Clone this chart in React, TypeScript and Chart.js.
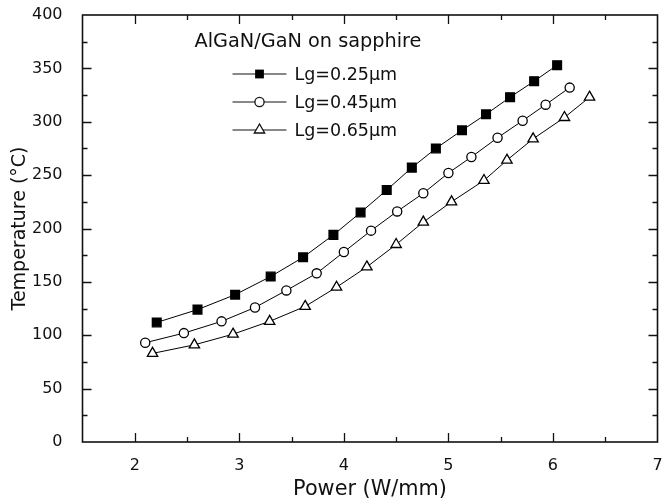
import React, { useEffect, useRef } from 'react';
import { Chart, registerables } from 'chart.js';

Chart.register(...registerables);

// ---- Data ----
const powerLg025 = [2.21, 2.6, 2.96, 3.3, 3.61, 3.9, 4.16, 4.41, 4.65, 4.88, 5.13, 5.36, 5.59, 5.82, 6.04];
const tempLg025 = [112, 124, 138, 155, 173, 194, 215, 236, 257, 275, 292, 307, 323, 338, 353];

const powerLg045 = [2.1, 2.47, 2.83, 3.15, 3.45, 3.74, 4.0, 4.26, 4.51, 4.76, 5.0, 5.22, 5.47, 5.71, 5.93, 6.16];
const tempLg045 = [93, 102, 113, 126, 142, 158, 178, 198, 216, 233, 252, 267, 285, 301, 316, 332];

const powerLg065 = [2.17, 2.57, 2.94, 3.29, 3.63, 3.93, 4.22, 4.5, 4.76, 5.03, 5.34, 5.56, 5.81, 6.11, 6.35];
const tempLg065 = [83, 91, 101, 113, 127, 145, 164, 185, 206, 225, 245, 264, 284, 304, 323];

const seriesLabels = ['Lg=0.25µm', 'Lg=0.45µm', 'Lg=0.65µm'];
const legendTitle = 'AlGaN/GaN on sapphire';
const xTitle = 'Power (W/mm)';
const yTitle = 'Temperature (°C)';

const xMin = 1.5;
const xMax = 7;
const xMinorStep = 0.5;
const yMin = 0;
const yMax = 400;
const yMajorStep = 50;
const yMinorStep = 25;

const FONT = '"DejaVu Sans", "Liberation Sans", Arial, sans-serif';
const INK = '#111';

function pts(xs: number[], ys: number[]) {
  return xs.map((x, i) => ({ x, y: ys[i] }));
}

const framePlugin = {
  id: 'frameTicks',
  afterDraw(chart: any) {
    const { ctx, chartArea: a, scales } = chart;
    const x = scales.x;
    const y = scales.y;
    ctx.save();
    ctx.strokeStyle = INK;
    ctx.lineWidth = 1.6;
    ctx.strokeRect(a.left, a.top, a.right - a.left, a.bottom - a.top);
    ctx.lineWidth = 1.3;
    ctx.beginPath();
    const nX = Math.round((xMax - xMin) / xMinorStep);
    for (let i = 1; i < nX; i++) {
      const v = xMin + i * xMinorStep;
      const px = Math.round(x.getPixelForValue(v)) + 0.5;
      const len = Math.abs(v - Math.round(v)) < 1e-9 ? 9 : 5;
      ctx.moveTo(px, a.bottom);
      ctx.lineTo(px, a.bottom - len);
      ctx.moveTo(px, a.top);
      ctx.lineTo(px, a.top + len);
    }
    const nY = Math.round((yMax - yMin) / yMinorStep);
    for (let i = 1; i < nY; i++) {
      const v = yMin + i * yMinorStep;
      const py = Math.round(y.getPixelForValue(v)) + 0.5;
      const len = v % yMajorStep === 0 ? 9 : 5;
      ctx.moveTo(a.left, py);
      ctx.lineTo(a.left + len, py);
      ctx.moveTo(a.right, py);
      ctx.lineTo(a.right - len, py);
    }
    ctx.stroke();
    ctx.restore();
  },
};

function drawMarker(ctx: CanvasRenderingContext2D, style: string, cx: number, cy: number) {
  ctx.beginPath();
  if (style === 'rect') {
    const h = 4.4;
    ctx.rect(cx - h, cy - h, 2 * h, 2 * h);
    ctx.fillStyle = '#000';
    ctx.fill();
  } else if (style === 'circle') {
    ctx.arc(cx, cy, 4.6, 0, Math.PI * 2);
    ctx.fillStyle = '#fff';
    ctx.fill();
    ctx.lineWidth = 1.3;
    ctx.stroke();
  } else {
    const r = 6;
    ctx.moveTo(cx, cy - r);
    ctx.lineTo(cx + r * 0.866, cy + r * 0.5);
    ctx.lineTo(cx - r * 0.866, cy + r * 0.5);
    ctx.closePath();
    ctx.fillStyle = '#fff';
    ctx.fill();
    ctx.lineWidth = 1.3;
    ctx.stroke();
  }
}

const legendPlugin = {
  id: 'customLegend',
  afterDraw(chart: any) {
    const { ctx, chartArea: a } = chart;
    ctx.save();
    ctx.fillStyle = INK;
    ctx.strokeStyle = INK;
    ctx.textBaseline = 'middle';
    ctx.textAlign = 'left';
    ctx.font = `19.3px ${FONT}`;
    ctx.fillText(legendTitle, a.left + 112, a.top + 27);
    const styles = ['rect', 'circle', 'triangle'];
    ctx.font = `17.5px ${FONT}`;
    for (let i = 0; i < seriesLabels.length; i++) {
      const cy = a.top + 59 + i * 28;
      const lx0 = a.left + 150;
      const lx1 = a.left + 204;
      ctx.lineWidth = 1;
      ctx.strokeStyle = INK;
      ctx.beginPath();
      ctx.moveTo(lx0, cy);
      ctx.lineTo(lx1, cy);
      ctx.stroke();
      drawMarker(ctx, styles[i], (lx0 + lx1) / 2, cy);
      ctx.fillStyle = INK;
      ctx.fillText(seriesLabels[i], a.left + 212, cy + 1);
    }
    ctx.restore();
  },
};

export default function App() {
  const ref = useRef<HTMLCanvasElement | null>(null);
  useEffect(() => {
    if (!ref.current) return;
    const common = {
      showLine: true,
      borderColor: '#000',
      borderWidth: 1,
      pointBorderColor: '#000',
      pointBorderWidth: 1.3,
      tension: 0,
    };
    const chart = new Chart(ref.current, {
      type: 'scatter',
      data: {
        datasets: [
          {
            ...common,
            label: seriesLabels[0],
            data: pts(powerLg025, tempLg025),
            pointStyle: 'rect',
            pointRadius: 6.2,
            pointBackgroundColor: '#000',
          },
          {
            ...common,
            label: seriesLabels[1],
            data: pts(powerLg045, tempLg045),
            pointStyle: 'circle',
            pointRadius: 4.6,
            pointBackgroundColor: '#fff',
          },
          {
            ...common,
            label: seriesLabels[2],
            data: pts(powerLg065, tempLg065),
            pointStyle: 'triangle',
            pointRadius: 6,
            pointBackgroundColor: '#fff',
          },
        ],
      },
      options: {
        animation: false,
        responsive: false,
        layout: { padding: { top: 15, right: 3.8, left: 0, bottom: 0 } },
        plugins: { legend: { display: false }, tooltip: { enabled: false } },
        scales: {
          x: {
            type: 'linear',
            min: xMin,
            max: xMax,
            afterFit: (s: any) => {
              s.height = 61;
              s.paddingLeft = 0;
              s.paddingRight = 0;
              s.paddingTop = 0;
              s.paddingBottom = 0;
            },
            grid: { display: false },
            border: { display: false },
            ticks: {
              stepSize: xMinorStep,
              autoSkip: false,
              maxRotation: 0,
              padding: 6,
              color: INK,
              font: { family: FONT, size: 16 },
              callback: (v: any) => (Math.abs(v - Math.round(v)) < 1e-9 ? String(Math.round(v)) : ''),
            },
            title: {
              display: true,
              text: xTitle,
              color: INK,
              font: { family: FONT, size: 20.8 },
              padding: { top: 0, bottom: 1 },
            },
          },
          y: {
            type: 'linear',
            min: yMin,
            max: yMax,
            afterFit: (s: any) => {
              s.width = 82.5;
              s.paddingLeft = 0;
              s.paddingRight = 0;
              s.paddingTop = 0;
              s.paddingBottom = 0;
            },
            grid: { display: false },
            border: { display: false },
            ticks: {
              stepSize: yMajorStep,
              padding: 12,
              color: INK,
              font: { family: FONT, size: 16 },
            },
            title: {
              display: true,
              text: yTitle,
              color: INK,
              font: { family: FONT, size: 19 },
              padding: { top: 9, bottom: 0 },
            },
          },
        },
      },
      plugins: [framePlugin, legendPlugin],
    } as any);
    return () => chart.destroy();
  }, []);
  return (
    <div style={{ position: 'absolute', left: 0, top: 0, width: 665, height: 503, background: '#fff' }}>
      <canvas ref={ref} width={665} height={503} style={{ display: 'block' }} />
    </div>
  );
}
